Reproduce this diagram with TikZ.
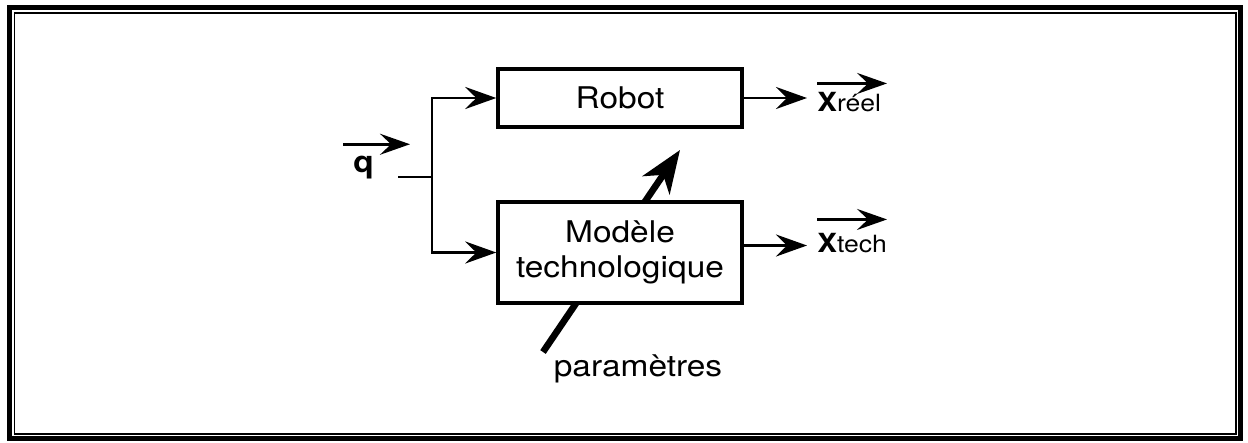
\documentclass[tikz,border=0pt]{standalone}
\usepackage{fontspec}
\setmainfont[FakeStretch=1.12]{TeX Gyre Heros}
\usepackage{tikz}
\usetikzlibrary{calc,positioning,arrows.meta}

\begin{document}
\begin{tikzpicture}[
            x=0.02cm, y=-0.02cm,
            block/.style={draw, fill=white, line width=2pt, minimum width=4.88cm, font=\fontsize{17}{20}\selectfont, align=center, inner sep=0pt},
            vect/.style={inner sep=0pt, anchor=base west},
            arrow/.style={-{Stealth[length=0.62cm, width=0.44cm, inset=0.22cm]}, line width=1.7pt},
            over/.style={-{Stealth[length=0.6cm, width=0.42cm, inset=0.22cm]}, line width=1.6pt},
            param/.style={-{Stealth[length=0.85cm, width=0.65cm, inset=0.25cm]}, line width=3.8pt},
            wire/.style={line width=1.7pt}
        ]

        % --- CADRE ---
        \useasboundingbox (0,0) rectangle (1248,443);
        \draw[line width=0.1cm] (9.5,7) rectangle (1240.5,438.5);
        \draw[line width=0.04cm] (14.5,12.5) rectangle (1236,434);

        % --- PARAMETRES (sous les blocs) ---
        \coordinate (pstart) at (543,352);
        \coordinate (ptip) at (680,150);
        \draw[param] (pstart) -- (ptip);
        \node[font=\fontsize{17}{20}\selectfont, anchor=base] (par) at (638,376) {paramètres};

        % --- BLOCS ---
        \node[block, minimum height=1.16cm] (robot) at (620,98) {Robot};
        \node[block, minimum height=2.02cm] (mod) at (620,252.5) {Modèle\\technologique};

        % --- ENTREE ---
        \node[vect, font=\fontsize{17}{20}\selectfont\bfseries] (q) at (353,172) {q};
        \coordinate (qend) at (398,177);
        \coordinate (split) at (432,177);
        \draw[wire] (qend) -- (split);
        \draw[arrow] (split) |- (robot.west);
        \draw[arrow] (split) |- (mod.west);
        \draw[over] ([xshift=-0.2cm, yshift=0.22cm]q.north west) -- ++(67,0);

        % --- SORTIES ---
        \node[vect] (xr) at (817,111) {{\fontsize{15}{18}\selectfont\bfseries X}{\fontsize{13.5}{16}\selectfont réel}};
        \node[vect] (xt) at (817,252) {{\fontsize{15}{18}\selectfont\bfseries X}{\fontsize{13.5}{16}\selectfont tech}};
        \draw[arrow] (robot.east) -- ([xshift=-0.2cm]robot.east -| xr.west);
        \draw[arrow] ([yshift=0.14cm]mod.east) -- ([xshift=-0.2cm, yshift=0.14cm]mod.east -| xt.west);
        \draw[over] ([yshift=0.16cm]xr.north west) -- ++(70,0);
        \draw[over] ([yshift=0.26cm]xt.north west) -- ++(70,0);

    \end{tikzpicture}
\end{document}
